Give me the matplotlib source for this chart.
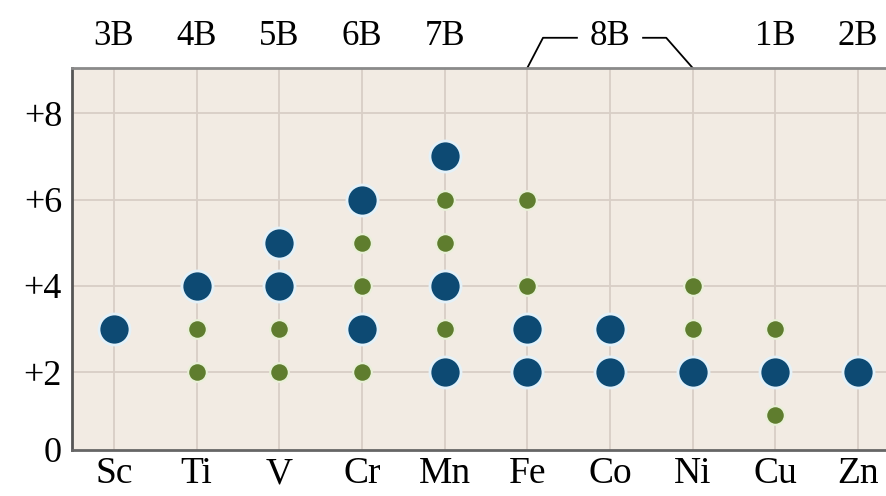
import matplotlib.pyplot as plt
import numpy as np

elements = ["Sc", "Ti", "V", "Cr", "Mn", "Fe", "Co", "Ni", "Cu", "Zn"]
groups = ["3B", "4B", "5B", "6B", "7B", "", "8B", "", "1B", "2B"]

# common oxidation states (big blue) and less common ones (small green)
common = {
    "Sc": [3], "Ti": [4], "V": [5, 4], "Cr": [6, 3], "Mn": [7, 4, 2],
    "Fe": [3, 2], "Co": [3, 2], "Ni": [2], "Cu": [2], "Zn": [2],
}
other = {
    "Sc": [], "Ti": [3, 2], "V": [3, 2], "Cr": [5, 4, 2], "Mn": [6, 5, 3],
    "Fe": [6, 4], "Co": [], "Ni": [4, 3], "Cu": [3, 1], "Zn": [],
}
ytick_vals = [0.2, 2, 4, 6, 8]
ytick_labels = ["0", "+2", "+4", "+6", "+8"]

serif = ["Liberation Serif", "DejaVu Serif"]
blue = "#0d4a73"
green = "#5f7d2e"

fig = plt.figure(figsize=(8.87, 4.96), dpi=100)
ax = fig.add_axes([0.081, 0.093, 0.919, 0.77])
ax.set_facecolor("#f2ebe3")

xs = np.arange(len(elements))
for i, el in enumerate(elements):
    ax.scatter([i] * len(other[el]), other[el], s=180, color=green,
               edgecolors="#e9f0d8", linewidths=1.5, zorder=3)
    ax.scatter([i] * len(common[el]), common[el], s=500, color=blue,
               edgecolors="#e4f1f8", linewidths=2, zorder=4)

ax.set_xlim(-0.508, 9.35)
ax.set_ylim(0.2, 9.05)

for x in xs:
    ax.axvline(x, color="#d8cec6", lw=1.3, zorder=1)
for y in [2, 4, 6, 8]:
    ax.axhline(y, color="#d8cec6", lw=1.3, zorder=1)

ax.set_xticks(xs)
ax.set_xticklabels(elements, fontfamily=serif, fontsize=27)
ax.set_yticks(ytick_vals)
ax.set_yticklabels(ytick_labels, fontfamily=serif, fontsize=26)
ax.tick_params(length=0, pad=7)
ax.tick_params(axis="x", pad=5)

ax.spines["right"].set_visible(False)
ax.spines["left"].set_color("#555555")
ax.spines["left"].set_linewidth(2)
ax.spines["top"].set_color("#8a8a8a")
ax.spines["top"].set_linewidth(2)
ax.spines["bottom"].set_color("#666666")
ax.spines["bottom"].set_linewidth(2)

# group labels across the top
for i, g in enumerate(groups):
    if g:
        ax.annotate(g, xy=(i, 1.0), xycoords=("data", "axes fraction"),
                    xytext=(0, 11), textcoords="offset points",
                    ha="center", va="bottom", fontfamily=serif, fontsize=25)

# bracket for 8B spanning Fe, Co, Ni
trans = ax.get_xaxis_transform()
ax.plot([5, 5.19, 5.6], [1.0, 1.079, 1.079], color="black", lw=1.3,
        transform=trans, clip_on=False)
ax.plot([6.4, 6.68, 7], [1.079, 1.079, 1.0], color="black", lw=1.3,
        transform=trans, clip_on=False)

fig.savefig("out.png", dpi=100)
